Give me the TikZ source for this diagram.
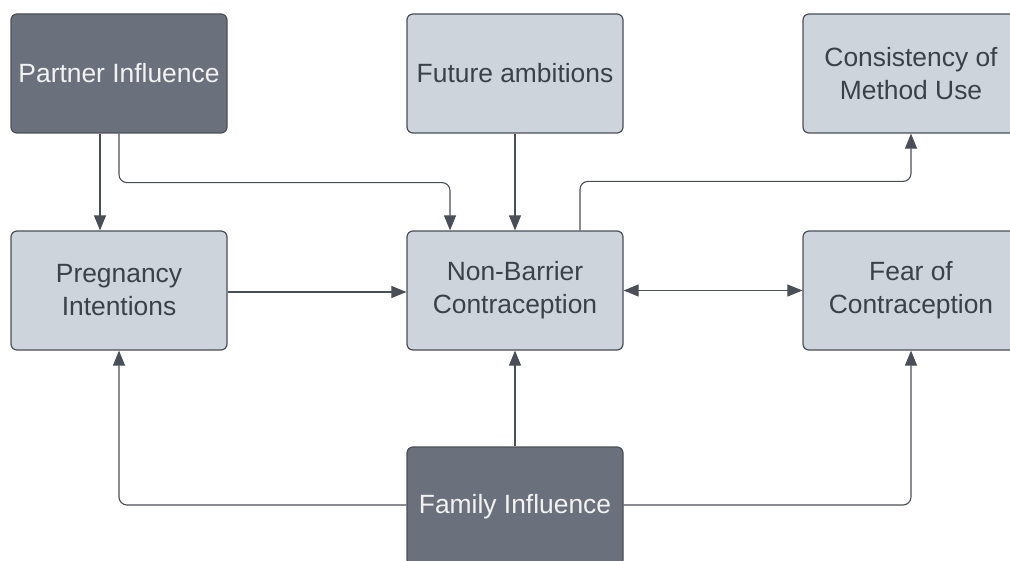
\documentclass[tikz,border=0pt]{standalone}
\usepackage{fontspec}
\setmainfont{Liberation Sans}
\usetikzlibrary{arrows.meta}

\definecolor{boxDark}{HTML}{6B717C}
\definecolor{boxLight}{HTML}{CED4DC}
\definecolor{edgeGray}{HTML}{4A4F57}
\definecolor{txtGray}{HTML}{3C4148}

\begin{document}
\begin{tikzpicture}[
    x=0.5pt, y=-0.5pt,
    block/.style={draw=edgeGray, line width=0.6pt, rounded corners=3pt,
                  minimum width=108pt, minimum height=59.5pt,
                  align=center, inner sep=2pt,
                  font=\fontsize{13.2}{16.5}\selectfont},
    light/.style={block, fill=boxLight, text=txtGray},
    dark/.style={block, fill=boxDark, text=white!95!black},
    arr/.style={-{Triangle[length=7.5pt,width=6pt]}, line width=0.55pt,
                edgeGray, rounded corners=4pt},
    darr/.style={arr, {Triangle[length=7.5pt,width=6pt]}-{Triangle[length=7.5pt,width=6pt]}},
]
\clip (0,0) rectangle (1010,561);
\fill[white] (0,0) rectangle (1010,561);

% --- top row ---
\node[dark]  (partner) at (119, 73.5) {Partner Influence};
\node[light] (future)  at (515, 73.5) {Future ambitions};
\node[light] (consist) at (911, 73.5) {Consistency of\\Method Use};

% --- middle row ---
\node[light] (preg) at (119, 290.5) {Pregnancy\\Intentions};
\node[light] (nonbar) at (515, 290.5) {Non-Barrier\\Contraception};
\node[light] (fear) at (911, 290.5) {Fear of\\Contraception};

% --- bottom ---
\node[dark] (family) at (515, 506.5) {Family Influence};

% Partner influence
\draw[arr] ([xshift=-9.5pt]partner.south) -- ([xshift=-9.5pt]preg.north);
\draw[arr] (partner.south) -- ++(0,49) -| ([xshift=-32.5pt]nonbar.north);

% Future ambitions
\draw[arr] (future) -- (nonbar);

% Non-barrier to consistency
\draw[arr] ([xshift=32.5pt]nonbar.north) -- ++(0,-49) -| (consist.south);

% Middle row links
\draw[arr] ([yshift=-0.75pt]preg.east) -- ([yshift=-0.75pt]nonbar.west);
\draw[darr] (nonbar) -- (fear);

% Family influence
\draw[arr] (family) -- (nonbar);
\draw[arr] ([yshift=0.75pt]family.west) -| (preg.south);
\draw[arr] ([yshift=0.75pt]family.east) -| (fear.south);

\end{tikzpicture}
\end{document}
